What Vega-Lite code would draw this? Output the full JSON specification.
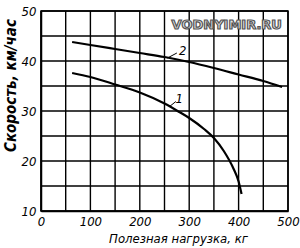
{
  "$schema": "https://vega.github.io/schema/vega-lite/v6.json",
  "width": 247,
  "height": 200,
  "autosize": {"type": "none"},
  "padding": {"left": 41, "top": 11, "right": 12, "bottom": 37},
  "background": "white",
  "config": {
    "view": {"stroke": "black", "strokeWidth": 1.5},
    "font": "DejaVu Sans Condensed"
  },
  "datasets": {
    "vgrid": [
      {"load": 0}, {"load": 50}, {"load": 100}, {"load": 150}, {"load": 200}, {"load": 250},
      {"load": 300}, {"load": 350}, {"load": 400}, {"load": 450}, {"load": 500}
    ],
    "hgrid": [
      {"speed": 10}, {"speed": 15}, {"speed": 20}, {"speed": 25}, {"speed": 30},
      {"speed": 35}, {"speed": 40}, {"speed": 45}, {"speed": 50}
    ],
    "curves": [
      {"series": "1", "load": 63, "speed": 37.6},
      {"series": "1", "load": 100, "speed": 36.8},
      {"series": "1", "load": 150, "speed": 35.3},
      {"series": "1", "load": 200, "speed": 33.7},
      {"series": "1", "load": 250, "speed": 31.5},
      {"series": "1", "load": 280, "speed": 29.8},
      {"series": "1", "load": 300, "speed": 28.6},
      {"series": "1", "load": 330, "speed": 26.4},
      {"series": "1", "load": 350, "speed": 24.6},
      {"series": "1", "load": 370, "speed": 22.0},
      {"series": "1", "load": 390, "speed": 18.4},
      {"series": "1", "load": 400, "speed": 15.9},
      {"series": "1", "load": 406, "speed": 13.4},
      {"series": "2", "load": 63, "speed": 43.8},
      {"series": "2", "load": 100, "speed": 43.2},
      {"series": "2", "load": 150, "speed": 42.4},
      {"series": "2", "load": 200, "speed": 41.6},
      {"series": "2", "load": 250, "speed": 40.8},
      {"series": "2", "load": 300, "speed": 39.8},
      {"series": "2", "load": 350, "speed": 38.6},
      {"series": "2", "load": 400, "speed": 37.3},
      {"series": "2", "load": 450, "speed": 36.0},
      {"series": "2", "load": 488, "speed": 34.8}
    ],
    "leaders": [
      {"series": "1", "load": 259, "speed": 30.8, "load2": 273, "speed2": 31.9},
      {"series": "2", "load": 256, "speed": 40.6, "load2": 275, "speed2": 41.6}
    ],
    "labels": [
      {"label": "1", "load": 280, "speed": 32.5},
      {"label": "2", "load": 287, "speed": 42.0}
    ],
    "mark": [
      {"text": "VODNYIMIR.RU", "load": 376, "speed": 47.3}
    ]
  },
  "layer": [
    {
      "data": {"name": "vgrid"},
      "mark": {"type": "rule", "color": "black", "strokeWidth": 1.4},
      "encoding": {
        "x": {
          "field": "load", "type": "quantitative",
          "scale": {"domain": [0, 500], "nice": false},
          "axis": {
            "values": [0, 100, 200, 300, 400, 500],
            "grid": false, "ticks": false,
            "domainColor": "black", "domainWidth": 1.5,
            "labelFontSize": 13, "labelFontStyle": "italic", "labelColor": "black",
            "labelPadding": 4, "labelFlush": false, "labelOverlap": false,
            "title": "Полезная нагрузка, кг",
            "titleFontSize": 13, "titleFontStyle": "italic", "titleFontWeight": "normal",
            "titleColor": "black", "titleX": 137, "titleY": 27, "titleBaseline": "middle"
          }
        }
      }
    },
    {
      "data": {"name": "hgrid"},
      "mark": {"type": "rule", "color": "black", "strokeWidth": 1.4},
      "encoding": {
        "y": {
          "field": "speed", "type": "quantitative",
          "scale": {"domain": [10, 50], "nice": false, "zero": false},
          "axis": {
            "values": [10, 20, 30, 40, 50],
            "grid": false, "ticks": false,
            "domainColor": "black", "domainWidth": 1.5,
            "labelFontSize": 13, "labelFontStyle": "italic", "labelColor": "black",
            "labelPadding": 5, "labelFlush": false, "labelOverlap": false,
            "title": "Скорость, км/час",
            "titleFontSize": 15, "titleFontStyle": "italic", "titleFontWeight": "bold",
            "titleColor": "black", "titleX": -31, "titleY": 74, "titleBaseline": "middle"
          }
        }
      }
    },
    {
      "data": {"name": "curves"},
      "mark": {"type": "line", "color": "black", "strokeWidth": 2.2, "interpolate": "monotone"},
      "encoding": {
        "x": {"field": "load", "type": "quantitative"},
        "y": {"field": "speed", "type": "quantitative"},
        "detail": {"field": "series"}
      }
    },
    {
      "data": {"name": "leaders"},
      "mark": {"type": "rule", "color": "black", "strokeWidth": 1},
      "encoding": {
        "x": {"field": "load", "type": "quantitative"},
        "y": {"field": "speed", "type": "quantitative"},
        "x2": {"field": "load2"},
        "y2": {"field": "speed2"}
      }
    },
    {
      "data": {"name": "labels"},
      "mark": {"type": "text", "fontSize": 13, "fontStyle": "italic", "color": "black"},
      "encoding": {
        "x": {"field": "load", "type": "quantitative"},
        "y": {"field": "speed", "type": "quantitative"},
        "text": {"field": "label"}
      }
    },
    {
      "data": {"name": "mark"},
      "mark": {"type": "text", "font": "DejaVu Sans", "fontSize": 13, "fontWeight": "bold", "fill": "#e0e0e0", "stroke": "#555555", "strokeWidth": 1.2},
      "encoding": {
        "x": {"field": "load", "type": "quantitative"},
        "y": {"field": "speed", "type": "quantitative"},
        "text": {"field": "text"}
      }
    }
  ]
}
